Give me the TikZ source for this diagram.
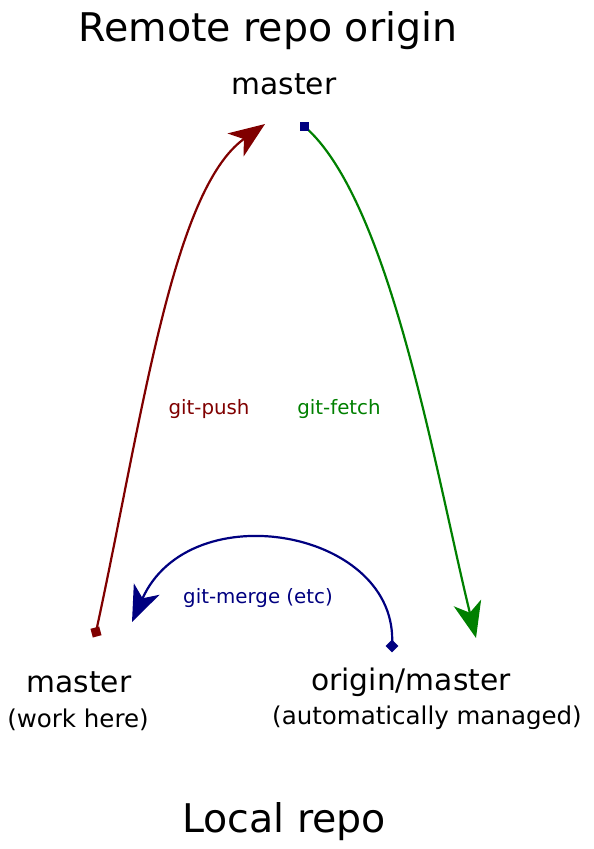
\documentclass[tikz,border=0pt]{standalone}
\usepackage{fontspec}
\setmainfont{DejaVu Sans}
\usetikzlibrary{arrows.meta}
\definecolor{pushred}{RGB}{128,0,0}
\definecolor{fetchgreen}{RGB}{0,128,0}
\definecolor{mergeblue}{RGB}{0,0,128}
\begin{document}
\begin{tikzpicture}[x=1pt,y=-1pt,
  title/.style={anchor=base,font=\fontsize{39.5}{44}\selectfont},
  branch/.style={anchor=base,font=\fontsize{29.7}{34}\selectfont},
  note/.style={anchor=base,font=\fontsize{24.5}{28}\selectfont},
  cmd/.style={anchor=base,font=\fontsize{19.8}{24}\selectfont},
  conn/.style={line width=2.2pt,-{Stealth[length=36pt,width=28pt,inset=10pt]}},
  sqmark/.style={draw=none,minimum size=9pt,inner sep=0pt},
]
\useasboundingbox (0,0) rectangle (594,849);
\node[title] (remote) at (268,41) {Remote repo origin};
\node[branch] (rmaster) at (284,94) {master};
\node[branch] (lmaster) at (79,692) {master};
\node[note] (work) at (78,727) {(work here)};
\node[branch] (omaster) at (411,690) {origin/master};
\node[note] (auto) at (427,724) {(automatically managed)};
\node[title] (local) at (284,832) {Local repo};
\node[cmd,text=pushred] (push) at (209,414) {git-push};
\node[cmd,text=fetchgreen] (fetch) at (339,414) {git-fetch};
\node[cmd,text=mergeblue] (merge) at (258,603) {git-merge (etc)};

\coordinate (pushs) at (96,632);
\coordinate (pushe) at (265,124);
\coordinate (fetchs) at (304,126);
\coordinate (fetche) at (476,638);
\coordinate (merges) at (392,646);
\coordinate (mergee) at (132,622);

\draw[conn,pushred] (pushs) .. controls (142,420) and (172,190) .. (pushe);
\draw[conn,fetchgreen] (fetchs) .. controls (390,200) and (435,470) .. (fetche);
\draw[conn,mergeblue] (merges) .. controls (400,530) and (190,492) .. (mergee);

\node[sqmark,fill=pushred,rotate=15] (pushsq) at (pushs) {};
\node[sqmark,fill=mergeblue] (fetchsq) at (fetchs) {};
\node[sqmark,fill=mergeblue,rotate=45] (mergesq) at (merges) {};
\end{tikzpicture}
\end{document}
